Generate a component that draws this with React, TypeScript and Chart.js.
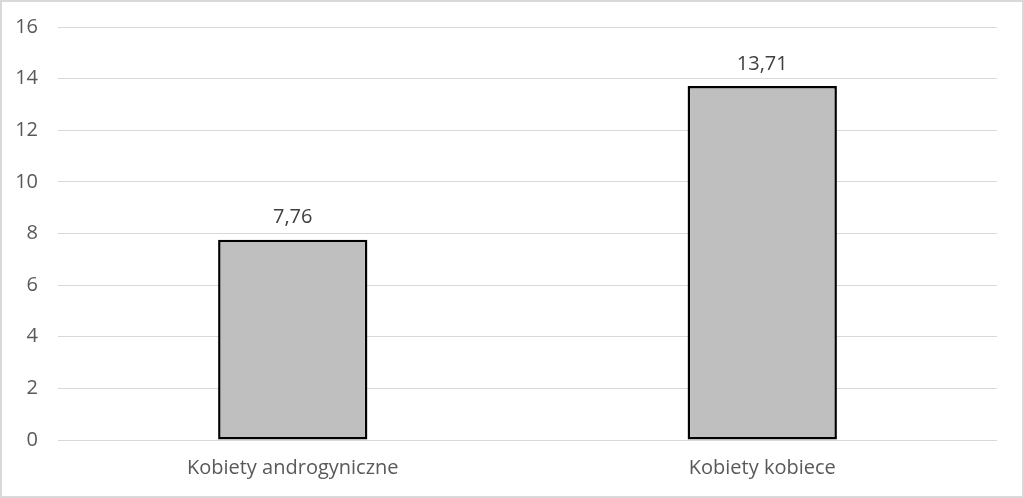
import React, { useRef, useEffect } from "react";
import Chart from "chart.js/auto";

const categories = ["Kobiety androgyniczne", "Kobiety kobiece"];
const values = [7.76, 13.71];
const yTicks = [0, 2, 4, 6, 8, 10, 12, 14, 16];

const FONT = "'Open Sans', sans-serif";

// etykiety wartości nad słupkami, z przecinkiem dziesiętnym
const valueLabels = {
  id: "valueLabels",
  afterDatasetsDraw(chart: Chart) {
    const ctx = chart.ctx;
    const meta = chart.getDatasetMeta(0);
    ctx.save();
    ctx.font = `20px ${FONT}`;
    ctx.fillStyle = "#404040";
    ctx.textAlign = "center";
    ctx.textBaseline = "bottom";
    meta.data.forEach((bar: any, i: number) => {
      const txt = values[i].toFixed(2).replace(".", ",");
      ctx.fillText(txt, bar.x, bar.y - 12);
    });
    ctx.restore();
  },
};

// ramka wokół całego wykresu
const outerBorder = {
  id: "outerBorder",
  afterDraw(chart: Chart) {
    const ctx = chart.ctx;
    ctx.save();
    ctx.strokeStyle = "#d9d9d9";
    ctx.lineWidth = 2;
    ctx.strokeRect(1, 1, chart.width - 2, chart.height - 2);
    ctx.restore();
  },
};

export default function App() {
  const chartRef = useRef<HTMLCanvasElement | null>(null);
  const chartInstanceRef = useRef<Chart | null>(null);

  useEffect(() => {
    document.body.style.margin = "0";
    if (!chartRef.current) return;
    const ctx = chartRef.current.getContext("2d");
    if (!ctx) return;
    if (chartInstanceRef.current) chartInstanceRef.current.destroy();

    chartInstanceRef.current = new Chart(ctx, {
      type: "bar",
      data: {
        labels: categories,
        datasets: [
          {
            data: values,
            backgroundColor: "#bfbfbf",
            borderColor: "#000000",
            borderWidth: 2.5,
            borderSkipped: false,
            categoryPercentage: 1,
            barPercentage: 0.318,
          },
        ],
      },
      plugins: [valueLabels, outerBorder],
      options: {
        animation: false,
        responsive: false,
        layout: { padding: { top: 27, right: 27, bottom: 10, left: 15 } },
        plugins: {
          legend: { display: false },
          tooltip: { enabled: false },
        },
        scales: {
          x: {
            grid: { display: false },
            border: { display: false },
            ticks: {
              color: "#595959",
              font: { family: FONT, size: 20 },
              padding: 8,
            },
          },
          y: {
            min: 0,
            max: 16,
            afterBuildTicks: (axis: any) => {
              axis.ticks = yTicks.map((v) => ({ value: v }));
            },
            afterFit: (axis: any) => {
              axis.width = 43;
              axis.paddingTop = 0;
            },
            grid: { color: "#d9d9d9", lineWidth: 1, drawTicks: false },
            border: { display: false },
            ticks: {
              color: "#595959",
              font: { family: FONT, size: 20 },
              padding: 20,
            },
          },
        },
      } as any,
    });

    return () => {
      if (chartInstanceRef.current) {
        chartInstanceRef.current.destroy();
        chartInstanceRef.current = null;
      }
    };
  }, []);

  return (
    <div style={{ width: 1024, height: 498 }}>
      <canvas ref={chartRef} width={1024} height={498} style={{ display: "block" }} />
    </div>
  );
}
